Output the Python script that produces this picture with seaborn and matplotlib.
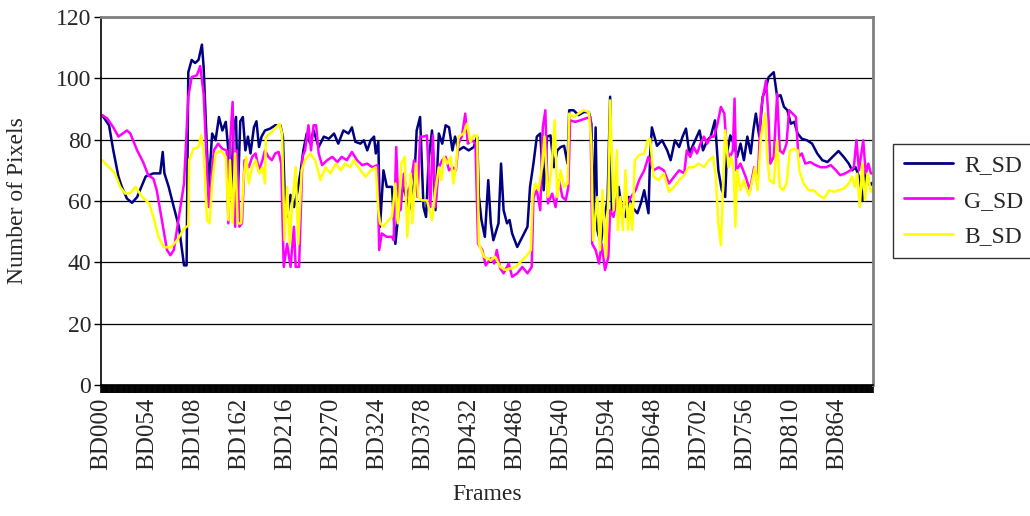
import pandas as pd
import seaborn as sns
import matplotlib.pyplot as plt

# values: (frame index, number of pixels)
r_frames = [1, 9, 14, 20, 24, 30, 36, 42, 52, 61, 69, 72, 74, 79, 85, 91, 97, 100, 102, 106, 110, 114, 118, 120, 124, 126, 130, 134, 138, 142, 146,
            149, 152, 155, 158, 160, 163, 166, 169, 172, 175, 179, 182, 185, 188, 192, 198, 204, 210, 213, 215, 218, 222, 226, 230, 234, 237, 241, 245, 249, 255, 261, 267, 273, 278, 284, 290, 294, 298, 304,
            308, 312, 316, 320, 322, 325, 327, 331, 335, 341, 345, 347, 351, 355, 361, 367, 370, 374, 378, 381, 384, 388, 392, 396, 400, 404, 408, 412, 415, 419, 425, 431, 437, 441, 443, 446, 450, 454,
            457, 460, 466, 469, 472, 476, 479, 482, 488, 494, 500, 503, 507, 511, 515, 519, 523, 527, 531, 535, 539, 543, 547, 549, 554, 560, 566, 572, 575, 577, 580, 582, 586, 590, 594, 597, 599, 605,
            607, 611, 615, 619, 623, 629, 633, 637, 642, 644, 646, 652, 658, 664, 668, 673, 678, 682, 686, 690, 695, 702, 706, 711, 715, 720, 724, 728, 732, 734, 738, 742, 746, 750, 754, 758, 762,
            765, 768, 772, 776, 779, 783, 789, 793, 797, 801, 805, 809, 813, 817, 822, 828, 834, 840, 846, 852, 858, 865, 871, 877, 881, 885, 889, 893, 897, 902, 905]
r_values = [88, 84.7, 76.5, 68, 64.6, 60.8, 59.4, 61.3, 68, 69, 69, 76, 69, 64.6, 58, 51.6, 39, 39, 102, 106, 105, 106, 111, 103.7, 76, 64.6, 82, 79.8, 87.4, 83, 85.8,
            76.5, 61, 83, 87.4, 61, 86, 87.4, 76.5, 81, 75.5, 84, 86, 77.6, 81, 83, 83.6, 84.7, 84.7, 81, 63, 55, 62, 58, 63, 70, 76.5, 82, 78.7, 83, 77.6, 81, 80.3, 82, 78.7, 83, 82, 84, 79.3, 78.7,
            79.8, 76.5, 79.8, 81, 75.5, 79.3, 51.6, 70, 64.6, 64.6, 46, 51.6, 61.3, 64.6, 57, 65.7, 83, 87.4, 58, 54.8, 73.3, 83, 57, 82, 78.7, 84.7, 84, 76.5, 81, 76.5, 77.6, 76.5, 77.6, 81, 61.3, 53.8, 48.3, 66.8,
            52.7, 47.2, 52.7, 72.2, 57, 52.7, 53.8, 49.4, 45, 48.3, 51.6, 64.6, 72.2, 81, 82, 63.5, 81, 81.4, 71, 76.5, 77.6, 78, 72.2, 89.6, 89.6, 88, 89, 89, 85.2, 51.6, 84, 50.5, 46, 54.8, 60.3, 94, 57, 60.3,
            64.6, 57, 54.8, 61.3, 58, 56, 59.2, 63.5, 56, 75.5, 84, 78, 79.8, 76.5, 73.3, 79.8, 77.6, 81, 83.6, 75.5, 78.7, 83, 76.5, 79.8, 81, 86.3, 70, 63.5, 61.3, 75.5, 81.4, 78.7, 74.4, 78.7, 73.3, 81, 75.5,
            83, 88.5, 81, 94, 96, 100.4, 102, 94, 94.5, 90.7, 89.6, 85.2, 85.8, 82, 80.3, 79.8, 78.7, 75.5, 73.3, 72.7, 74.4, 76.3, 74.4, 72.2, 70, 71, 67.9, 60, 70, 65, 66]

g_frames = [1, 7, 14, 20, 30, 34, 42, 49, 55, 61, 65, 69, 73, 77, 81, 85, 91, 97, 102, 106, 112, 116, 120, 123, 126, 132, 137, 142, 147,
            149, 151, 154, 157, 159, 162, 165, 168, 173, 177, 181, 185, 189, 192, 196, 200, 204, 208, 211, 214, 218, 222, 226, 228, 232, 236, 239, 243, 246, 249, 252, 255, 259, 265, 271, 277, 282, 288, 294, 300, 304,
            306, 312, 318, 324, 326, 329, 335, 341, 343, 346, 348, 351, 355, 359, 363, 367, 371, 374, 378, 382, 386, 389, 392, 396, 400, 404, 408, 412, 416, 419, 423, 427, 430, 435, 439, 442, 447, 451,
            457, 461, 464, 468, 472, 478, 482, 488, 494, 500, 505, 507, 511, 515, 518, 521, 524, 529, 533, 537, 541, 545, 548, 550, 556, 562, 568, 574, 576, 580, 584, 587, 591, 595, 597, 601, 605,
            611, 619, 627, 631, 637, 642, 648, 654, 660, 666, 672, 678, 684, 687, 691, 695, 699, 703, 707, 711, 715, 719, 723, 727, 731, 734, 738, 741, 743, 745, 750, 756,
            761, 766, 770, 774, 777, 780, 783, 785, 789, 793, 796, 800, 804, 807, 811, 815, 818, 822, 826, 832, 838, 844, 850, 856, 862, 867, 873, 879, 883, 886, 889, 894, 897, 900, 903, 905]
g_values = [88, 86.9, 84, 81, 83, 82, 76.5, 72.7, 68.4, 67.3, 63.5, 57, 50.5, 44, 42.3, 44, 54.8, 65.7, 94, 100.4, 101, 104, 95, 76.5, 58, 76.5, 78.7, 77, 76.5,
            52.7, 78.7, 92.3, 51.6, 76.5, 51.6, 52.7, 73.3, 71, 74.4, 75.5, 70, 73.3, 76.5, 74.4, 73.3, 75.5, 76, 72.2, 38.5, 46, 38.5, 51.6, 38.5, 38.5, 74.4, 76.5, 84.7, 76.5, 84.7, 84.7, 75.5, 71.7, 73.3, 74.4, 72.7, 74.4, 73.3, 76, 73.3, 72.2,
            71.7, 72.2, 71, 71.7, 44, 49.4, 48.3, 48.3, 47.2, 77.6, 62.4, 57, 68.9, 61.3, 65.7, 73.3, 61.3, 81, 81, 81.4, 58, 81.4, 58, 71, 73.3, 74.4, 70, 71, 70, 78.7, 81, 88.5, 78.7, 79.8, 78.7, 46, 44, 39,
            41.3, 39.6, 44, 38, 36.4, 39.6, 35.3, 36.4, 38.5, 36.4, 38.5, 61.3, 63.5, 57, 84, 89.6, 59.2, 62.4, 58, 66.8, 61.3, 60.3, 64.6, 86.3, 85.8, 86.3, 86.9, 87.4, 46, 44, 39.6, 46, 37.5, 41.8, 57, 54.8, 61.3,
            58, 60.3, 63.5, 66.8, 70, 74.4, 70, 71, 70, 65.7, 67.9, 70, 69, 76.5, 74.4, 77.6, 75.5, 78.7, 81, 78.7, 81, 81, 85.2, 90.7, 88.5, 76.5, 74.4, 76.5, 93.4, 70, 72.2, 67.9,
            63.5, 71, 65.7, 89.6, 95, 99.3, 86.3, 72.2, 74.4, 95, 76.5, 75.5, 78.7, 89.6, 88.5, 87.4, 74.4, 75.5, 72.2, 72.7, 71.7, 71, 71, 71.7, 70, 68.4, 69, 70, 71, 79.8, 70, 79.8, 69, 72.2, 69, 69]

b_frames = [1, 9, 16, 22, 28, 34, 40, 48, 56, 61, 67, 73, 81, 89, 97, 102, 103, 108, 114, 117, 120, 124, 127, 130, 134, 140, 146,
            149, 151, 154, 157, 160, 164, 167, 170, 173, 177, 181, 185, 189, 192, 193, 198, 204, 209, 212, 215, 218, 221, 224, 228, 231, 235, 239, 245, 251, 257, 263, 269, 275, 281, 286, 292, 296, 304,
            310, 316, 322, 325, 327, 331, 337, 341, 345, 348, 352, 356, 359, 363, 365, 369, 372, 376, 382, 388, 392, 396, 399, 402, 406, 410, 413, 416, 419, 425, 429, 433, 437, 441, 443, 449, 457,
            462, 468, 474, 480, 486, 492, 498, 504, 506, 509, 513, 517, 520, 524, 528, 532, 535, 539, 543, 547, 549, 554, 560, 566, 572, 575, 577, 582, 585, 588, 592, 595, 597, 601, 605,
            606, 609, 612, 615, 618, 621, 623, 626, 631, 637, 641, 644, 648, 654, 660, 666, 672, 678, 684, 689, 695, 701, 707, 713, 718, 721, 724, 727, 729, 732, 736, 739, 742, 744, 746, 750, 754, 757,
            760, 764, 767, 770, 774, 779, 781, 784, 789, 793, 796, 800, 804, 808, 813, 817, 819, 824, 830, 836, 842, 848, 854, 860, 865, 871, 877, 881, 884, 887, 890, 893, 896, 899, 903, 905]
b_values = [73.3, 71, 69, 64.6, 62.4, 62.6, 64.6, 61.3, 59.2, 54.8, 48.3, 45, 44.8, 47.2, 51, 52, 73.3, 77, 77.6, 81.4, 76.5, 53.8, 52.7, 65.7, 75.5, 76.5, 74.4,
            53.8, 73.3, 52.7, 75.5, 52.7, 52.7, 67.9, 74.4, 65.7, 71, 73.3, 69, 71, 65.7, 81, 82, 83.6, 85.2, 82, 47.2, 64.6, 46, 59.2, 71, 46, 70, 73.3, 75.5, 73.3, 66.8, 71, 69, 72.2, 70, 72.2, 71, 73.3, 70,
            67.9, 70, 71, 57, 52.7, 51.6, 53.8, 54.8, 65.7, 52.7, 72.2, 74.4, 48.3, 69, 52.7, 72.2, 61.3, 60.2, 60.2, 53.8, 63.5, 71, 66.8, 74.4, 72.2, 74.4, 65.7, 71, 81, 82, 85.2, 79.3, 81.4, 81.4, 46, 41.8, 40.7,
            41.8, 38.5, 37.5, 38, 38.5, 40.2, 41.8, 44, 61.3, 65.7, 63.5, 71, 81, 61.3, 70, 86.3, 61.3, 70, 64.6, 65.7, 88.5, 87.4, 88.5, 89.6, 89, 78.7, 47.2, 61.3, 44, 63.5, 41.8, 61.3, 92.8, 57, 76.5,
            50.5, 61.3, 50.5, 70, 50.5, 59.2, 50.5, 73.3, 75, 75.5, 79.8, 80.3, 67.9, 66.8, 69, 63, 64.6, 66.8, 68.4, 71, 71, 72.2, 71, 73.3, 74.4, 67.9, 52.7, 45.6, 61.3, 83, 71, 74.4, 70, 51.6, 70, 63.5, 66.8, 64,
            61.9, 66.8, 71, 63.5, 81, 88.5, 75.5, 66.8, 65.7, 79.8, 64.6, 63.5, 65.7, 76.5, 77, 76.5, 70, 65.7, 63.5, 63.5, 61.9, 60.8, 63.5, 63, 63.5, 64, 65.7, 67.9, 64.6, 68.9, 58, 72.2, 60.3, 69, 63, 64]

n_frames = 906
label_step = 54

df = pd.concat([
    pd.DataFrame({"frame": r_frames, "value": r_values, "series": "R_SD"}),
    pd.DataFrame({"frame": g_frames, "value": g_values, "series": "G_SD"}),
    pd.DataFrame({"frame": b_frames, "value": b_values, "series": "B_SD"}),
])

sns.set_style("white")
plt.rcParams["font.family"] = ["Liberation Serif", "DejaVu Serif"]

fig = plt.figure(figsize=(10.3, 5.16), dpi=100)
ax = fig.add_axes([0.098, 0.254, 0.7496, 0.713])

sns.lineplot(data=df, x="frame", y="value", hue="series", estimator=None, sort=True,
             palette={"R_SD": "#000080", "G_SD": "#FF00FF", "B_SD": "#FFFF00"},
             linewidth=1.8, ax=ax)

ax.set_xlim(-0.5, n_frames - 0.5)
ax.set_ylim(0, 120)
ax.set_yticks(range(0, 121, 20))
ax.yaxis.grid(True, color="black", linewidth=0.9)
ax.set_axisbelow(True)

# one tick per frame, labels every 54th -> solid black band like the original
ticks = list(range(n_frames))
labels = ["BD%03d" % t if t % label_step == 0 else "" for t in ticks]
ax.set_xticks(ticks)
ax.set_xticklabels(labels, rotation=90)
ax.tick_params(axis="x", bottom=True, direction="out", length=6, width=1.2, color="black", labelsize=18, pad=3)
ax.tick_params(axis="y", left=True, direction="out", length=5, width=1, color="black", labelsize=17, pad=2)

for s in ["left", "bottom"]:
    ax.spines[s].set_color("black")
    ax.spines[s].set_linewidth(1.2)
for s in ["top", "right"]:
    ax.spines[s].set_color("#808080")
    ax.spines[s].set_linewidth(2)

ax.set_xlabel("Frames", fontsize=17, va="top")
ax.xaxis.set_label_coords(0.5, -0.268)
ax.set_ylabel("Number of Pixels", fontsize=17)
ax.yaxis.set_label_coords(-0.095, 0.5)

leg = ax.legend(loc="center left", bbox_to_anchor=(1.026, 0.5), borderaxespad=0, fontsize=17, frameon=True,
                fancybox=False, edgecolor="black", handlelength=2.1, handletextpad=0.45,
                borderpad=0.45, labelspacing=0.6)
leg.get_frame().set_linewidth(1)
for line in leg.get_lines():
    line.set_linewidth(2)

fig.savefig("out.png", dpi=100)
